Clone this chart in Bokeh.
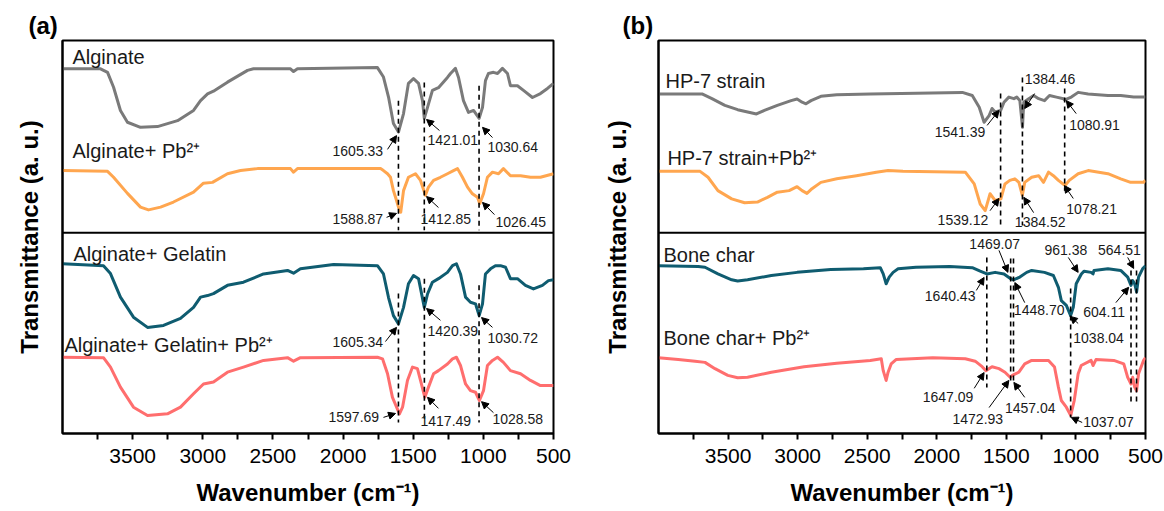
from bokeh.plotting import figure
from bokeh.layouts import row
from bokeh.models import Range1d, FixedTicker, Span, Arrow, NormalHead, ColumnDataSource
from bokeh.embed import file_html
from bokeh.resources import INLINE
from bokeh.core.properties import value

FONT = "Liberation Sans"

# ---------------- data: panel (a) ----------------
alg_wn = [4000, 3729, 3679, 3636, 3587, 3537, 3444, 3323, 3180, 3066, 3016, 2966, 2924, 2824, 2681, 2639, 2375, 2353, 2325,
          1755, 1712, 1676, 1641, 1605, 1569, 1534, 1498, 1462, 1434, 1421, 1398, 1363, 1320, 1256, 1234, 1199, 1177, 1142,
          1106, 1070, 1030, 1006, 985, 964, 928, 899, 864, 828, 807, 757, 714, 650, 593, 543, 500]
alg_t = [92.8, 92.8, 91.9, 88.1, 82.2, 79.2, 77.9, 78.1, 79.6, 82.2, 84.7, 86.4, 87.1, 89.4, 92.4, 92.8, 92.8, 92.1, 92.8,
         93.1, 90.7, 85.6, 78.9, 76.7, 81.4, 89.1, 90.3, 89.1, 84.7, 80.2, 83.0, 87.3, 88.0, 90.6, 91.6, 92.9, 90.6, 84.7,
         81.7, 82.2, 80.2, 83.0, 89.8, 91.6, 91.9, 91.6, 92.9, 91.6, 88.5, 88.5, 87.3, 85.5, 86.5, 87.8, 89.1]

algpb_wn = [4000, 3679, 3636, 3537, 3444, 3387, 3301, 3209, 3066, 2995, 2931, 2824, 2731, 2610, 2375, 2353, 2325, 1733,
            1712, 1683, 1662, 1641, 1626, 1605, 1589, 1569, 1534, 1484, 1448, 1413, 1391, 1355, 1306, 1256, 1213, 1184,
            1149, 1113, 1078, 1042, 1026, 999, 971, 935, 892, 857, 807, 735, 664, 593, 500]
algpb_t = [66.9, 66.7, 65.2, 61.1, 57.6, 56.9, 57.6, 58.9, 61.4, 63.7, 63.9, 66.1, 66.9, 67.4, 67.4, 66.5, 67.4, 67.4,
           66.9, 66.1, 65.2, 61.8, 60.1, 57.6, 56.3, 61.8, 65.2, 66.1, 64.4, 60.6, 62.7, 64.4, 65.2, 66.1, 66.9, 67.4,
           65.2, 62.7, 61.0, 60.1, 58.5, 61.0, 65.2, 66.5, 66.1, 67.4, 65.6, 65.6, 65.2, 65.2, 66.1]

gel_wn = [4000, 3708, 3658, 3587, 3494, 3394, 3280, 3159, 3066, 3016, 2966, 2924, 2824, 2710, 2567, 2396, 2353, 2304, 2068,
          1755, 1712, 1676, 1641, 1605, 1569, 1534, 1498, 1462, 1421, 1398, 1363, 1320, 1256, 1220, 1192, 1163, 1127,
          1092, 1056, 1030, 1006, 985, 949, 914, 878, 842, 807, 757, 700, 643, 579, 536, 500]
gel_t = [43.2, 42.7, 40.7, 34.7, 29.6, 27.0, 27.5, 29.3, 32.1, 34.7, 35.1, 35.6, 37.7, 38.5, 40.6, 41.5, 40.8, 41.9, 43.0,
         42.7, 40.6, 34.6, 30.0, 27.9, 32.1, 38.1, 40.2, 39.4, 32.1, 35.5, 38.5, 39.4, 41.0, 42.7, 43.2, 40.6, 34.7,
         33.4, 33.0, 30.0, 33.0, 40.6, 41.9, 42.7, 42.7, 42.3, 39.4, 39.4, 37.7, 36.8, 37.7, 38.9, 39.1]

gelpb_wn = [4000, 3708, 3658, 3587, 3494, 3394, 3252, 3159, 3066, 2995, 2924, 2824, 2710, 2567, 2396, 2353, 2304, 1755,
            1719, 1683, 1648, 1598, 1576, 1541, 1505, 1470, 1448, 1417, 1391, 1355, 1320, 1256, 1220, 1192, 1163, 1127,
            1092, 1056, 1028, 999, 971, 935, 899, 857, 807, 735, 664, 593, 500]
gelpb_t = [19.4, 19.3, 16.9, 11.8, 6.7, 4.6, 5.0, 6.7, 10.1, 12.6, 13.1, 15.6, 16.9, 18.6, 19.3, 18.4, 19.3, 19.4,
           19.0, 15.2, 9.2, 5.0, 6.7, 13.5, 16.9, 16.5, 13.5, 9.2, 11.8, 15.2, 16.0, 17.7, 19.0, 19.4, 17.3, 12.6,
           10.9, 10.5, 8.4, 10.9, 17.3, 18.6, 19.4, 18.1, 16.0, 15.2, 13.5, 12.2, 12.2]

a_names = ["Alginate", "Alginate+ Pb\u00b2\u207a", "Alginate+ Gelatin", "Alginate+ Gelatin+ Pb\u00b2\u207a"]
a_name_x = [3929, 3929, 3922, 3986]
a_name_y = [95.7, 71.8, 45.8, 22.4]

a_peaks = ["1605.33", "1421.01", "1030.64", "1588.87", "1412.85", "1026.45",
           "1605.34", "1420.39", "1030.72", "1597.69", "1417.49", "1028.58"]
a_peak_x = [2075, 1398, 971, 2075, 1448, 914, 2075, 1398, 971, 2104, 1448, 935]
a_peak_y = [72.0, 74.6, 72.8, 54.7, 54.7, 53.7, 23.2, 26.2, 24.2, 4.1, 3.3, 3.6]
a_arrow_x0 = [1683, 1313, 935, 1690, 1320, 921, 1698, 1306, 935, 1712, 1320, 928]
a_arrow_y0 = [72.3, 77.1, 75.3, 55.0, 57.5, 55.7, 23.4, 28.8, 27.0, 4.1, 6.4, 5.3]
a_arrow_x1 = [1619, 1405, 1006, 1619, 1405, 1006, 1619, 1405, 1013, 1626, 1398, 1013]
a_arrow_y1 = [75.8, 79.9, 77.9, 56.0, 60.3, 58.8, 27.0, 31.8, 29.5, 5.1, 9.2, 8.1]

a_dash_x = [1605.33, 1421.01, 1030.64, 1605.34, 1420.39, 1030.72]
a_dash_y0 = [84.7, 89.3, 88.5, 35.6, 39.4, 37.7]
a_dash_y1 = [51.7, 51.7, 51.7, 2.8, 2.8, 2.8]

# ---------------- data: panel (b) ----------------
hp_wn = [4000, 3687, 3616, 3523, 3431, 3296, 3239, 3146, 3047, 3004, 2968, 2940, 2904, 2833, 2719, 2478, 1816, 1745,
         1695, 1660, 1624, 1603, 1581, 1541, 1517, 1482, 1446, 1425, 1403, 1384, 1375, 1339, 1304, 1268, 1226, 1190,
         1140, 1090, 1081, 1033, 984, 912, 770, 678, 585, 514, 500]
hp_t = [86.4, 86.4, 85.2, 83.5, 82.4, 81.3, 82.2, 83.5, 84.7, 85.1, 84.3, 83.9, 84.7, 85.8, 86.2, 86.4, 86.8, 86.0,
        83.0, 79.2, 80.9, 82.7, 81.8, 82.2, 84.3, 85.6, 85.2, 85.6, 84.7, 77.9, 84.3, 85.2, 86.0, 85.2, 84.7, 86.0,
        85.6, 85.2, 84.9, 85.6, 86.8, 86.4, 86.0, 86.0, 85.6, 85.6, 85.6]

hppb_wn = [4000, 3701, 3644, 3573, 3474, 3381, 3289, 3217, 3146, 3061, 3004, 2968, 2933, 2897, 2833, 2719, 2577, 2435,
           2350, 2243, 1795, 1731, 1688, 1652, 1617, 1581, 1539, 1510, 1475, 1439, 1410, 1385, 1368, 1318, 1268, 1233,
           1197, 1162, 1126, 1078, 1048, 984, 912, 770, 678, 607, 514, 500]
hppb_t = [66.7, 66.7, 65.2, 61.8, 59.7, 58.7, 58.9, 60.1, 61.4, 61.8, 62.8, 61.8, 61.1, 62.3, 63.9, 64.8, 65.6, 66.5,
          66.9, 66.7, 66.5, 63.5, 58.4, 56.7, 61.0, 59.3, 59.7, 63.5, 64.4, 64.8, 63.9, 60.6, 63.9, 65.2, 65.6, 63.9,
          66.5, 65.6, 64.4, 63.1, 64.4, 66.1, 66.9, 66.1, 64.8, 63.9, 63.9, 64.4]

bone_wn = [4000, 3715, 3666, 3573, 3474, 3431, 3360, 3189, 3004, 2762, 2527, 2406, 2385, 2364, 2342, 2314, 2278, 2150,
           1908, 1745, 1688, 1640, 1581, 1517, 1469, 1449, 1403, 1354, 1318, 1226, 1162, 1126, 1105, 1069, 1038, 1019,
           998, 961, 941, 891, 877, 870, 770, 678, 628, 604, 592, 578, 564, 550, 521, 500]
bone_t = [42.7, 42.5, 42.3, 40.6, 39.1, 38.8, 39.1, 40.2, 41.0, 41.7, 41.9, 42.2, 40.6, 38.1, 39.8, 41.0, 41.9, 42.3,
          42.5, 42.2, 41.3, 40.6, 41.0, 40.6, 39.4, 39.1, 39.8, 41.0, 41.5, 41.0, 40.2, 37.2, 33.8, 32.6, 30.0, 32.1,
          38.1, 40.6, 41.3, 41.0, 40.6, 41.5, 41.9, 41.5, 39.8, 37.7, 38.9, 38.1, 36.0, 39.8, 41.9, 42.7]

bonepb_wn = [4000, 3858, 3737, 3666, 3594, 3502, 3431, 3360, 3189, 2954, 2719, 2478, 2399, 2385, 2364, 2350, 2328, 2293,
             2029, 1795, 1724, 1674, 1647, 1603, 1553, 1510, 1473, 1457, 1410, 1368, 1318, 1197, 1154, 1126, 1105, 1069,
             1037, 1012, 984, 962, 891, 877, 856, 728, 656, 628, 604, 592, 578, 564, 550, 514, 500]
bonepb_t = [19.3, 18.8, 18.4, 18.1, 16.5, 14.8, 14.2, 14.3, 15.6, 17.0, 17.9, 18.6, 19.0, 16.0, 13.5, 15.6, 17.7, 18.8,
            19.3, 19.0, 18.4, 17.0, 16.0, 17.0, 16.5, 15.6, 14.3, 14.8, 15.6, 17.7, 18.6, 18.6, 16.9, 11.8, 8.4, 6.7,
            4.6, 8.4, 15.2, 17.3, 18.6, 17.3, 18.8, 18.6, 17.7, 14.3, 12.6, 14.3, 11.8, 10.9, 15.2, 18.6, 19.3]

b_names = ["HP-7 strain", "HP-7 strain+Pb\u00b2\u207a", "Bone char", "Bone char+ Pb\u00b2\u207a"]
b_name_x = [3950, 3936, 3964, 3964]
b_name_y = [89.8, 70.2, 45.3, 24.2]

b_peaks = ["1384.46", "1541.39", "1080.91", "1539.12", "1384.52", "1078.21", "1469.07", "1640.43", "1448.70",
           "961.38", "564.51", "604.11", "1038.04", "1647.09", "1472.93", "1457.04", "1037.07"]
b_peak_x = [1368, 2015, 1048, 1994, 1439, 1069, 1766, 2086, 1446, 1226, 841, 948, 1019, 2101, 1887, 1510, 948]
b_peak_y = [90.1, 76.6, 78.6, 54.2, 53.7, 57.0, 48.3, 35.1, 31.3, 46.6, 46.6, 30.8, 24.2, 9.2, 3.8, 6.4, 2.8]
b_arrow_x0 = [1297, 1638, 998, 1617, 1304, 1019, 1553, 1716, 1368, 1055, 628, 713, 984, 1731, 1624, 1368, 955]
b_arrow_y0 = [86.5, 78.4, 81.4, 56.7, 56.2, 59.8, 46.6, 36.4, 33.3, 44.8, 44.8, 33.3, 28.0, 11.5, 6.6, 9.2, 2.8]
b_arrow_x1 = [1368, 1553, 1069, 1553, 1375, 1083, 1489, 1660, 1439, 984, 585, 621, 1041, 1660, 1482, 1446, 1034]
b_arrow_y1 = [82.7, 82.2, 84.7, 59.8, 60.1, 63.1, 41.0, 39.7, 38.4, 41.0, 42.0, 37.2, 29.8, 15.5, 13.5, 13.0, 4.1]

b_dash_x = [1541.39, 1384.46, 1080.91, 1640.43, 1469.07, 1448.70, 1038.04, 604.11, 564.51]
b_dash_y0 = [86.5, 90.6, 87.8, 44.8, 44.5, 44.5, 36.9, 41.5, 41.5]
b_dash_y1 = [52.9, 52.9, 61.8, 11.7, 12.7, 12.7, 4.1, 7.9, 7.9]

divider = 51.1
major_ticks = [3500, 3000, 2500, 2000, 1500, 1000, 500]
minor_ticks = [3750, 3250, 2750, 2250, 1750, 1250, 750]
tick_labels = ["3500", "3000", "2500", "2000", "1500", "1000", "500"]

GREY, ORANGE, TEAL, RED = "#7a7a7a", "#ffa64f", "#0f5c70", "#ff6e6e"


def make_panel(label, width, left, right, title_offset, ylab_standoff):
    p = figure(width=width, height=511, title=label,
               x_range=Range1d(4000, 500), y_range=Range1d(0, 100),
               output_backend="svg", toolbar_location=None,
               min_border_left=left, min_border_right=right, min_border_top=40, min_border_bottom=78)
    p.grid.visible = False
    p.outline_line_color = "black"
    p.outline_line_width = 2
    p.outline_line_alpha = 1
    p.background_fill_color = "white"
    p.border_fill_color = "white"

    p.title.text_font = FONT
    p.title.text_font_size = "24px"
    p.title.text_font_style = "bold"
    p.title.text_color = "black"
    p.title.align = "left"
    p.title.offset = title_offset
    p.title.standoff = 3

    xa = p.xaxis[0]
    xa.ticker = FixedTicker(ticks=major_ticks, minor_ticks=minor_ticks)
    xa.major_label_overrides = dict(zip(major_ticks, tick_labels))
    xa.major_label_text_font = FONT
    xa.major_label_text_font_size = "21px"
    xa.major_label_text_color = "black"
    xa.major_label_standoff = 9
    xa.axis_line_width = 2
    xa.major_tick_line_width = 2
    xa.minor_tick_line_width = 2
    xa.major_tick_in = 0
    xa.major_tick_out = 6
    xa.minor_tick_in = 0
    xa.minor_tick_out = 6
    xa.axis_label = "Wavenumber (cm\u207b\u00b9)"
    xa.axis_label_text_font = FONT
    xa.axis_label_text_font_size = "24px"
    xa.axis_label_text_font_style = "bold"
    xa.axis_label_text_color = "black"
    xa.axis_label_standoff = 13

    ya = p.yaxis[0]
    ya.ticker = FixedTicker(ticks=[])
    ya.major_label_text_font_size = "0px"
    ya.major_label_standoff = 0
    ya.major_tick_out = 0
    ya.minor_tick_out = 0
    ya.major_tick_in = 0
    ya.minor_tick_in = 0
    ya.axis_line_width = 2
    ya.axis_label = "Transmittance (a. u.)"
    ya.axis_label_text_font = FONT
    ya.axis_label_text_font_size = "24px"
    ya.axis_label_text_font_style = "bold"
    ya.axis_label_text_color = "black"
    ya.axis_label_standoff = ylab_standoff

    p.add_layout(Span(location=divider, dimension="width", line_color="black", line_width=2))
    return p


def decorate(p, names, nx, ny, peaks, px, py, ax0, ay0, ax1, ay1, dx, dy0, dy1):
    p.segment(x0=dx, y0=dy0, x1=dx, y1=dy1, line_color="black", line_width=1.6, line_dash="5 4")
    p.text(x=nx, y=ny, text=names, text_font=value(FONT), text_font_size="20px",
           text_color="#1a1a1a", text_align="left", text_baseline="middle")
    p.text(x=px, y=py, text=peaks, text_font=value(FONT), text_font_size="14px",
           text_color="#1a1a1a", text_align="left", text_baseline="middle")
    src = ColumnDataSource(dict(xs=ax0, ys=ay0, xe=ax1, ye=ay1))
    p.add_layout(Arrow(end=NormalHead(size=7, fill_color="black", line_color="black", line_width=1),
                       x_start="xs", y_start="ys", x_end="xe", y_end="ye", source=src,
                       line_color="black", line_width=1))


pa = make_panel("(a)", 600, 62, 47, -34, 20)
for wn, t, c in [(alg_wn, alg_t, GREY), (algpb_wn, algpb_t, ORANGE), (gel_wn, gel_t, TEAL), (gelpb_wn, gelpb_t, RED)]:
    pa.line(wn, t, line_color=c, line_width=3, line_join="round")
decorate(pa, a_names, a_name_x, a_name_y, a_peaks, a_peak_x, a_peak_y,
         a_arrow_x0, a_arrow_y0, a_arrow_x1, a_arrow_y1, a_dash_x, a_dash_y0, a_dash_y1)

pb = make_panel("(b)", 564, 53, 19, -36, 28)
for wn, t, c in [(hp_wn, hp_t, GREY), (hppb_wn, hppb_t, ORANGE), (bone_wn, bone_t, TEAL), (bonepb_wn, bonepb_t, RED)]:
    pb.line(wn, t, line_color=c, line_width=3, line_join="round")
decorate(pb, b_names, b_name_x, b_name_y, b_peaks, b_peak_x, b_peak_y,
         b_arrow_x0, b_arrow_y0, b_arrow_x1, b_arrow_y1, b_dash_x, b_dash_y0, b_dash_y1)

layout = row(pa, pb, spacing=0)
open("out.html", "w").write(file_html(layout, INLINE))
